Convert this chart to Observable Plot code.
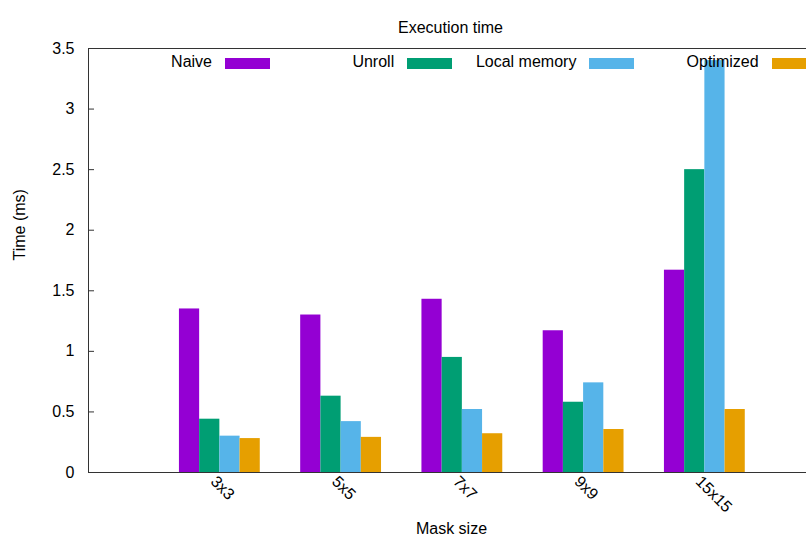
<!DOCTYPE html>
<html>
<head>
<meta charset="utf-8">
<script src="https://cdn.jsdelivr.net/npm/d3@7"></script>
<script src="https://cdn.jsdelivr.net/npm/@observablehq/plot@0.6"></script>
<style>
  html, body { margin: 0; padding: 0; background: #fff; overflow: hidden; }
  #wrap { position: relative; width: 806px; height: 545px; overflow: hidden; font-family: "Liberation Sans", Arial, sans-serif; }
  .lg-text { position: absolute; font-size: 16px; line-height: 16px; color: #000; white-space: nowrap; text-align: right; }
  .lg-sw { position: absolute; width: 45px; height: 10.5px; }
</style>
</head>
<body>
<div id="wrap"></div>
<script>
const categories = ["3x3", "5x5", "7x7", "9x9", "15x15"];
const seriesNames = ["Naive", "Unroll", "Local memory", "Optimized"];
const naive     = [1.35, 1.30, 1.43, 1.17, 1.67];
const unroll    = [0.44, 0.63, 0.95, 0.58, 2.50];
const localMem  = [0.30, 0.42, 0.52, 0.74, 3.40];
const optimized = [0.28, 0.29, 0.32, 0.355, 0.52];
const colors = ["#9400d3", "#009e73", "#56b4e9", "#e69f00"];
const yTicks = [0, 0.5, 1, 1.5, 2, 2.5, 3, 3.5];
const yTickLabels = ["0", "0.5", "1", "1.5", "2", "2.5", "3", "3.5"];

const seriesValues = [naive, unroll, localMem, optimized];
const data = [];
categories.forEach((c, i) => {
  seriesValues.forEach((vals, j) => {
    data.push({cat: c, i, j, series: seriesNames[j], value: vals[i]});
  });
});
const barW = 1 / 6;

const chart = Plot.plot({
  width: 806,
  height: 545,
  marginTop: 48,
  marginBottom: 73,
  marginLeft: 88,
  marginRight: 0,
  style: {fontFamily: "'Liberation Sans', Arial, sans-serif", fontSize: "16px", color: "#000", background: "#fff", overflow: "hidden"},
  x: {domain: [-1, 5], range: [88, 815.5], axis: null},
  y: {domain: [0, 3.5], axis: null},
  color: {domain: seriesNames, range: colors},
  marks: [
    Plot.rectY(data, {
      x1: d => d.i - 0.25 + d.j * barW,
      x2: d => d.i - 0.25 + (d.j + 1) * barW,
      y: "value",
      fill: "series"
    }),
    Plot.ruleX([-1, 5], {stroke: "#333", strokeWidth: 1}),
    Plot.ruleY([0, 3.5], {stroke: "#333", strokeWidth: 1}),
    Plot.axisY({
      ticks: yTicks,
      tickFormat: (d) => yTickLabels[yTicks.indexOf(d)],
      tickSize: -6,
      tickPadding: 20,
      stroke: "#333",
      label: null,
      fontSize: 16
    }),
    Plot.text(categories, {
      x: (d, i) => i,
      frameAnchor: "bottom",
      text: d => d,
      rotate: 45,
      textAnchor: "start",
      dy: 10,
      fontSize: 16
    }),
    Plot.text(["Time (ms)"], {frameAnchor: "left", rotate: -90, dx: -69, fontSize: 16}),
    Plot.text(["Mask size"], {frameAnchor: "bottom", dy: 61, dx: 4, fontSize: 16}),
    Plot.text(["Execution time"], {frameAnchor: "top", dy: -27, dx: 3, fontSize: 16})
  ]
});

const wrap = document.getElementById("wrap");
wrap.appendChild(chart);

// in-plot legend (horizontal, 4 columns)
seriesNames.forEach((name, k) => {
  const swLeft = 225 + 182.2 * k;
  const t = document.createElement("div");
  t.className = "lg-text";
  t.textContent = name;
  t.style.right = (806 - (swLeft - 13)) + "px";
  t.style.top = "54px";
  wrap.appendChild(t);
  const s = document.createElement("div");
  s.className = "lg-sw";
  s.style.left = swLeft + "px";
  s.style.top = "58.3px";
  s.style.background = colors[k];
  wrap.appendChild(s);
});
</script>
</body>
</html>
